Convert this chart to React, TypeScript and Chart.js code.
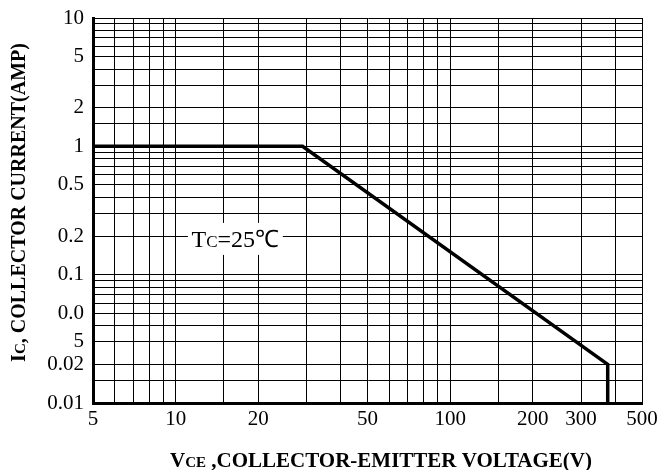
import React, { useEffect, useRef } from 'react';
import { Chart, registerables } from 'chart.js';

Chart.register(...registerables);

// Safe operating area boundary (VCE in volts, IC in amps)
const voltage = [5, 29, 375, 375];
const current = [1, 1, 0.02, 0.01];

// Log grid lines and labelled ticks
const xGridValues = [5, 6, 7, 8, 9, 10, 15, 20, 30, 40, 50, 60, 70, 80, 90, 100, 150, 200, 300, 400, 500];
const xTickLabels = [5, 10, 20, 50, 100, 200, 300, 500];
const yGridValues = [
  0.01, 0.015, 0.02, 0.03, 0.04, 0.05, 0.06, 0.07, 0.08, 0.09,
  0.1, 0.2, 0.3, 0.4, 0.5, 0.6, 0.7, 0.8, 0.9,
  1, 1.5, 2, 3, 4, 5, 6, 7, 8, 9, 10,
];
const yTickLabels = [0.01, 0.02, 0.05, 0.1, 0.2, 0.5, 1, 2, 5, 10];

const annotationX = 16.5;
const annotationY = 0.19;

const SERIF = '"Liberation Serif", "Times New Roman", serif';

function drawSegments(ctx: CanvasRenderingContext2D, segs: { t: string; f: string }[], x: number, y: number) {
  let w = 0;
  for (const s of segs) {
    ctx.font = s.f;
    w += ctx.measureText(s.t).width;
  }
  let cx = x - w / 2;
  for (const s of segs) {
    ctx.font = s.f;
    ctx.fillText(s.t, cx, y);
    cx += ctx.measureText(s.t).width;
  }
}

function zeroPadding(scale: any) {
  scale.paddingTop = 0;
  scale.paddingBottom = 0;
  scale.paddingLeft = 0;
  scale.paddingRight = 0;
}

export default function App() {
  const ref = useRef<HTMLCanvasElement>(null);

  useEffect(() => {
    if (!ref.current) return;

    const overlay = {
      id: 'overlay',
      afterDraw(chart: any) {
        const ctx: CanvasRenderingContext2D = chart.ctx;
        const xs = chart.scales.x;
        const ys = chart.scales.y;
        ctx.save();
        ctx.fillStyle = '#000';
        ctx.textBaseline = 'alphabetic';
        ctx.textAlign = 'left';

        // annotation box
        const cx = xs.getPixelForValue(annotationX);
        const cy = ys.getPixelForValue(annotationY);
        ctx.fillStyle = '#fff';
        ctx.fillRect(cx - 47.5, cy - 16, 95, 32);
        ctx.fillStyle = '#000';
        drawSegments(ctx, [
          { t: 'T', f: `24px ${SERIF}` },
          { t: 'C', f: `17px ${SERIF}` },
          { t: '=25℃', f: `24px ${SERIF}` },
        ], cx, cy + 7.7);

        // x axis title
        drawSegments(ctx, [
          { t: 'V', f: `bold 21px ${SERIF}` },
          { t: 'CE', f: `bold 15px ${SERIF}` },
          { t: ' ,COLLECTOR-EMITTER VOLTAGE(V)', f: `bold 21px ${SERIF}` },
        ], 381, 466.5);

        // y axis title
        ctx.translate(25, 202.5);
        ctx.rotate(-Math.PI / 2);
        drawSegments(ctx, [
          { t: 'I', f: `bold 20px ${SERIF}` },
          { t: 'C', f: `bold 15px ${SERIF}` },
          { t: ', COLLECTOR CURRENT(AMP)', f: `bold 20px ${SERIF}` },
        ], 0, 0);
        ctx.restore();
      },
    };

    const chart = new Chart(ref.current, {
      type: 'scatter',
      data: {
        datasets: [
          {
            data: voltage.map((v, i) => ({ x: v, y: current[i] })),
            showLine: true,
            borderColor: '#000',
            backgroundColor: '#000',
            borderWidth: 3.5,
            pointRadius: 0,
            tension: 0,
            fill: false,
          },
        ],
      },
      options: {
        responsive: false,
        maintainAspectRatio: false,
        animation: false,
        layout: { padding: { top: 18, right: 15, left: 0, bottom: 0 } },
        plugins: {
          legend: { display: false },
          tooltip: { enabled: false },
          title: { display: false },
        },
        scales: {
          x: {
            type: 'logarithmic',
            min: 5,
            max: 500,
            afterBuildTicks: (scale: any) => {
              scale.ticks = xGridValues.map((v) => ({ value: v }));
            },
            afterFit: (scale: any) => {
              scale.height = 67;
              zeroPadding(scale);
            },
            ticks: {
              autoSkip: false,
              maxRotation: 0,
              minRotation: 0,
              padding: 4,
              color: '#000',
              font: { family: SERIF, size: 21 },
              callback: (value: any) => (xTickLabels.includes(Number(value)) ? String(value) : ''),
            },
            grid: { color: '#000', lineWidth: 1, drawTicks: false },
            border: { color: '#000', width: 3 },
          },
          y: {
            type: 'logarithmic',
            min: 0.01,
            max: 10,
            afterBuildTicks: (scale: any) => {
              scale.ticks = yGridValues.map((v) => ({ value: v }));
            },
            afterFit: (scale: any) => {
              scale.width = 93;
              zeroPadding(scale);
            },
            ticks: {
              autoSkip: false,
              padding: 9,
              color: '#000',
              font: { family: SERIF, size: 21, lineHeight: 28 / 21 },
              callback: (value: any) => {
                const v = Number(value);
                if (!yTickLabels.includes(v)) return '';
                if (v === 0.05) return ['', '0.0', '5'];
                return String(v);
              },
            },
            grid: { color: '#000', lineWidth: 1, drawTicks: false },
            border: { color: '#000', width: 3 },
          },
        },
      },
      plugins: [overlay],
    } as any);

    return () => chart.destroy();
  }, []);

  return (
    <div style={{ position: 'fixed', left: 0, top: 0, width: 657, height: 470, background: '#fff' }}>
      <canvas ref={ref} width={657} height={470} style={{ display: 'block' }} />
    </div>
  );
}
